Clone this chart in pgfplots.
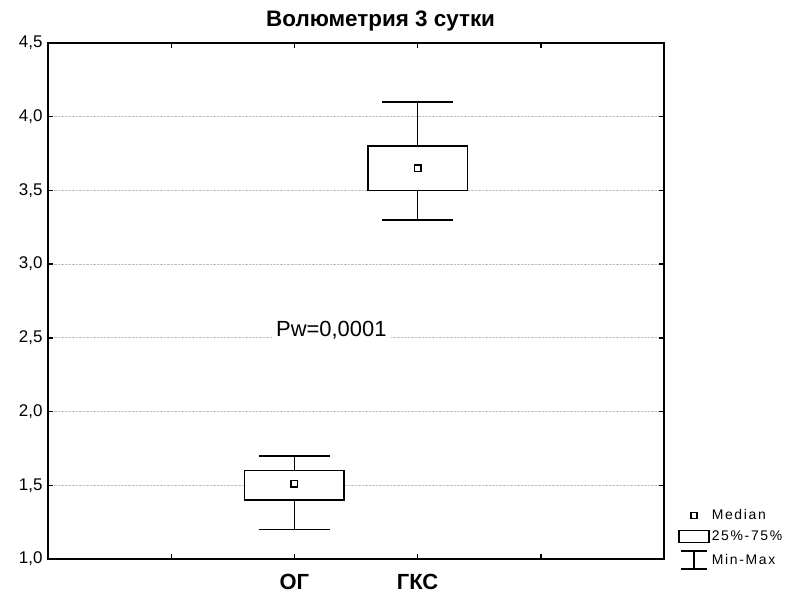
\documentclass[border=0pt]{standalone}
\usepackage{pgfplots}
\pgfplotsset{compat=1.18}
\usepgfplotslibrary{statistics}
\usepackage{fontspec}
\setmainfont{Liberation Sans}
\newfontfamily\legfont[LetterSpace=12]{Liberation Sans}

\begin{document}
\begin{tikzpicture}
\path[use as bounding box] (-48bp,-38bp) rectangle (739bp,559bp);
\begin{axis}[
  at={(0,0)}, anchor=south west,
  scale only axis,
  width=616bp, height=516bp,
  xmin=0, xmax=5, ymin=1, ymax=4.5,
  xtick={1,2,3,4}, xticklabels={,ОГ,ГКС,},
  ytick={1,1.5,2,2.5,3,3.5,4,4.5},
  ymajorgrids,
  grid style={densely dotted, gray!50, line width=0.9bp},
  axis line style={line width=1.8bp},
  major tick length=5bp,
  tick style={black, line width=1.4bp},
  x tick label style={font=\fontsize{22}{25}\selectfont\bfseries, yshift=-12bp},
  y tick label style={font=\fontsize{17}{19}\selectfont, xshift=-2bp},
  /pgf/number format/fixed,
  /pgf/number format/fixed zerofill,
  /pgf/number format/precision=1,
  /pgf/number format/use comma,
  /pgf/number format/assume math mode=true,
  title={Волюметрия 3 сутки},
  title style={at={(0.54,1)}, anchor=center, yshift=16bp, font=\fontsize{22.5}{25}\selectfont\bfseries},
  clip=false,
  legend style={at={(1.018,0.104)}, anchor=north west, draw=none, fill=none,
    font=\legfont\fontsize{14}{16}\selectfont, row sep=6bp},
  legend cell align=left,
]
% boxes: OG and GKS
\addplot[black, fill=white, line width=1.6bp, forget plot,
  boxplot/draw direction=y,
  boxplot/draw/median/.code={},
  boxplot prepared={draw position=2, lower whisker=1.2, lower quartile=1.4,
    median=1.51, upper quartile=1.6, upper whisker=1.7,
    box extend=0.81, whisker extend=0.58}] coordinates {};
\addplot[black, fill=white, line width=1.6bp, forget plot,
  boxplot/draw direction=y,
  boxplot/draw/median/.code={},
  boxplot prepared={draw position=3, lower whisker=3.3, lower quartile=3.5,
    median=3.65, upper quartile=3.8, upper whisker=4.1,
    box extend=0.81, whisker extend=0.58}] coordinates {};
% medians
\addplot[only marks, mark=square, mark size=3.3bp, mark options={line width=1.5bp, black}, forget plot]
  coordinates {(2,1.51) (3,3.65)};

\node[fill=white, inner sep=4bp, font=\fontsize{22}{25}\selectfont] at (axis cs:2.30,2.55) {Pw=0,0001};

\addlegendimage{legend image code/.code={\draw[line width=1.5bp] (12bp,-3bp) rectangle (18bp,3bp);}}
\addlegendentry{Median}
\addlegendimage{legend image code/.code={\draw[line width=1.5bp] (0bp,-6bp) rectangle (30bp,6bp);}}
\addlegendentry{25\%-75\%}
\addlegendimage{legend image code/.code={\draw[line width=1.5bp] (2bp,9bp)--(28bp,9bp) (15bp,9bp)--(15bp,-9bp) (2bp,-9bp)--(28bp,-9bp);}}
\addlegendentry{Min-Max}
\end{axis}
\end{tikzpicture}
\end{document}
